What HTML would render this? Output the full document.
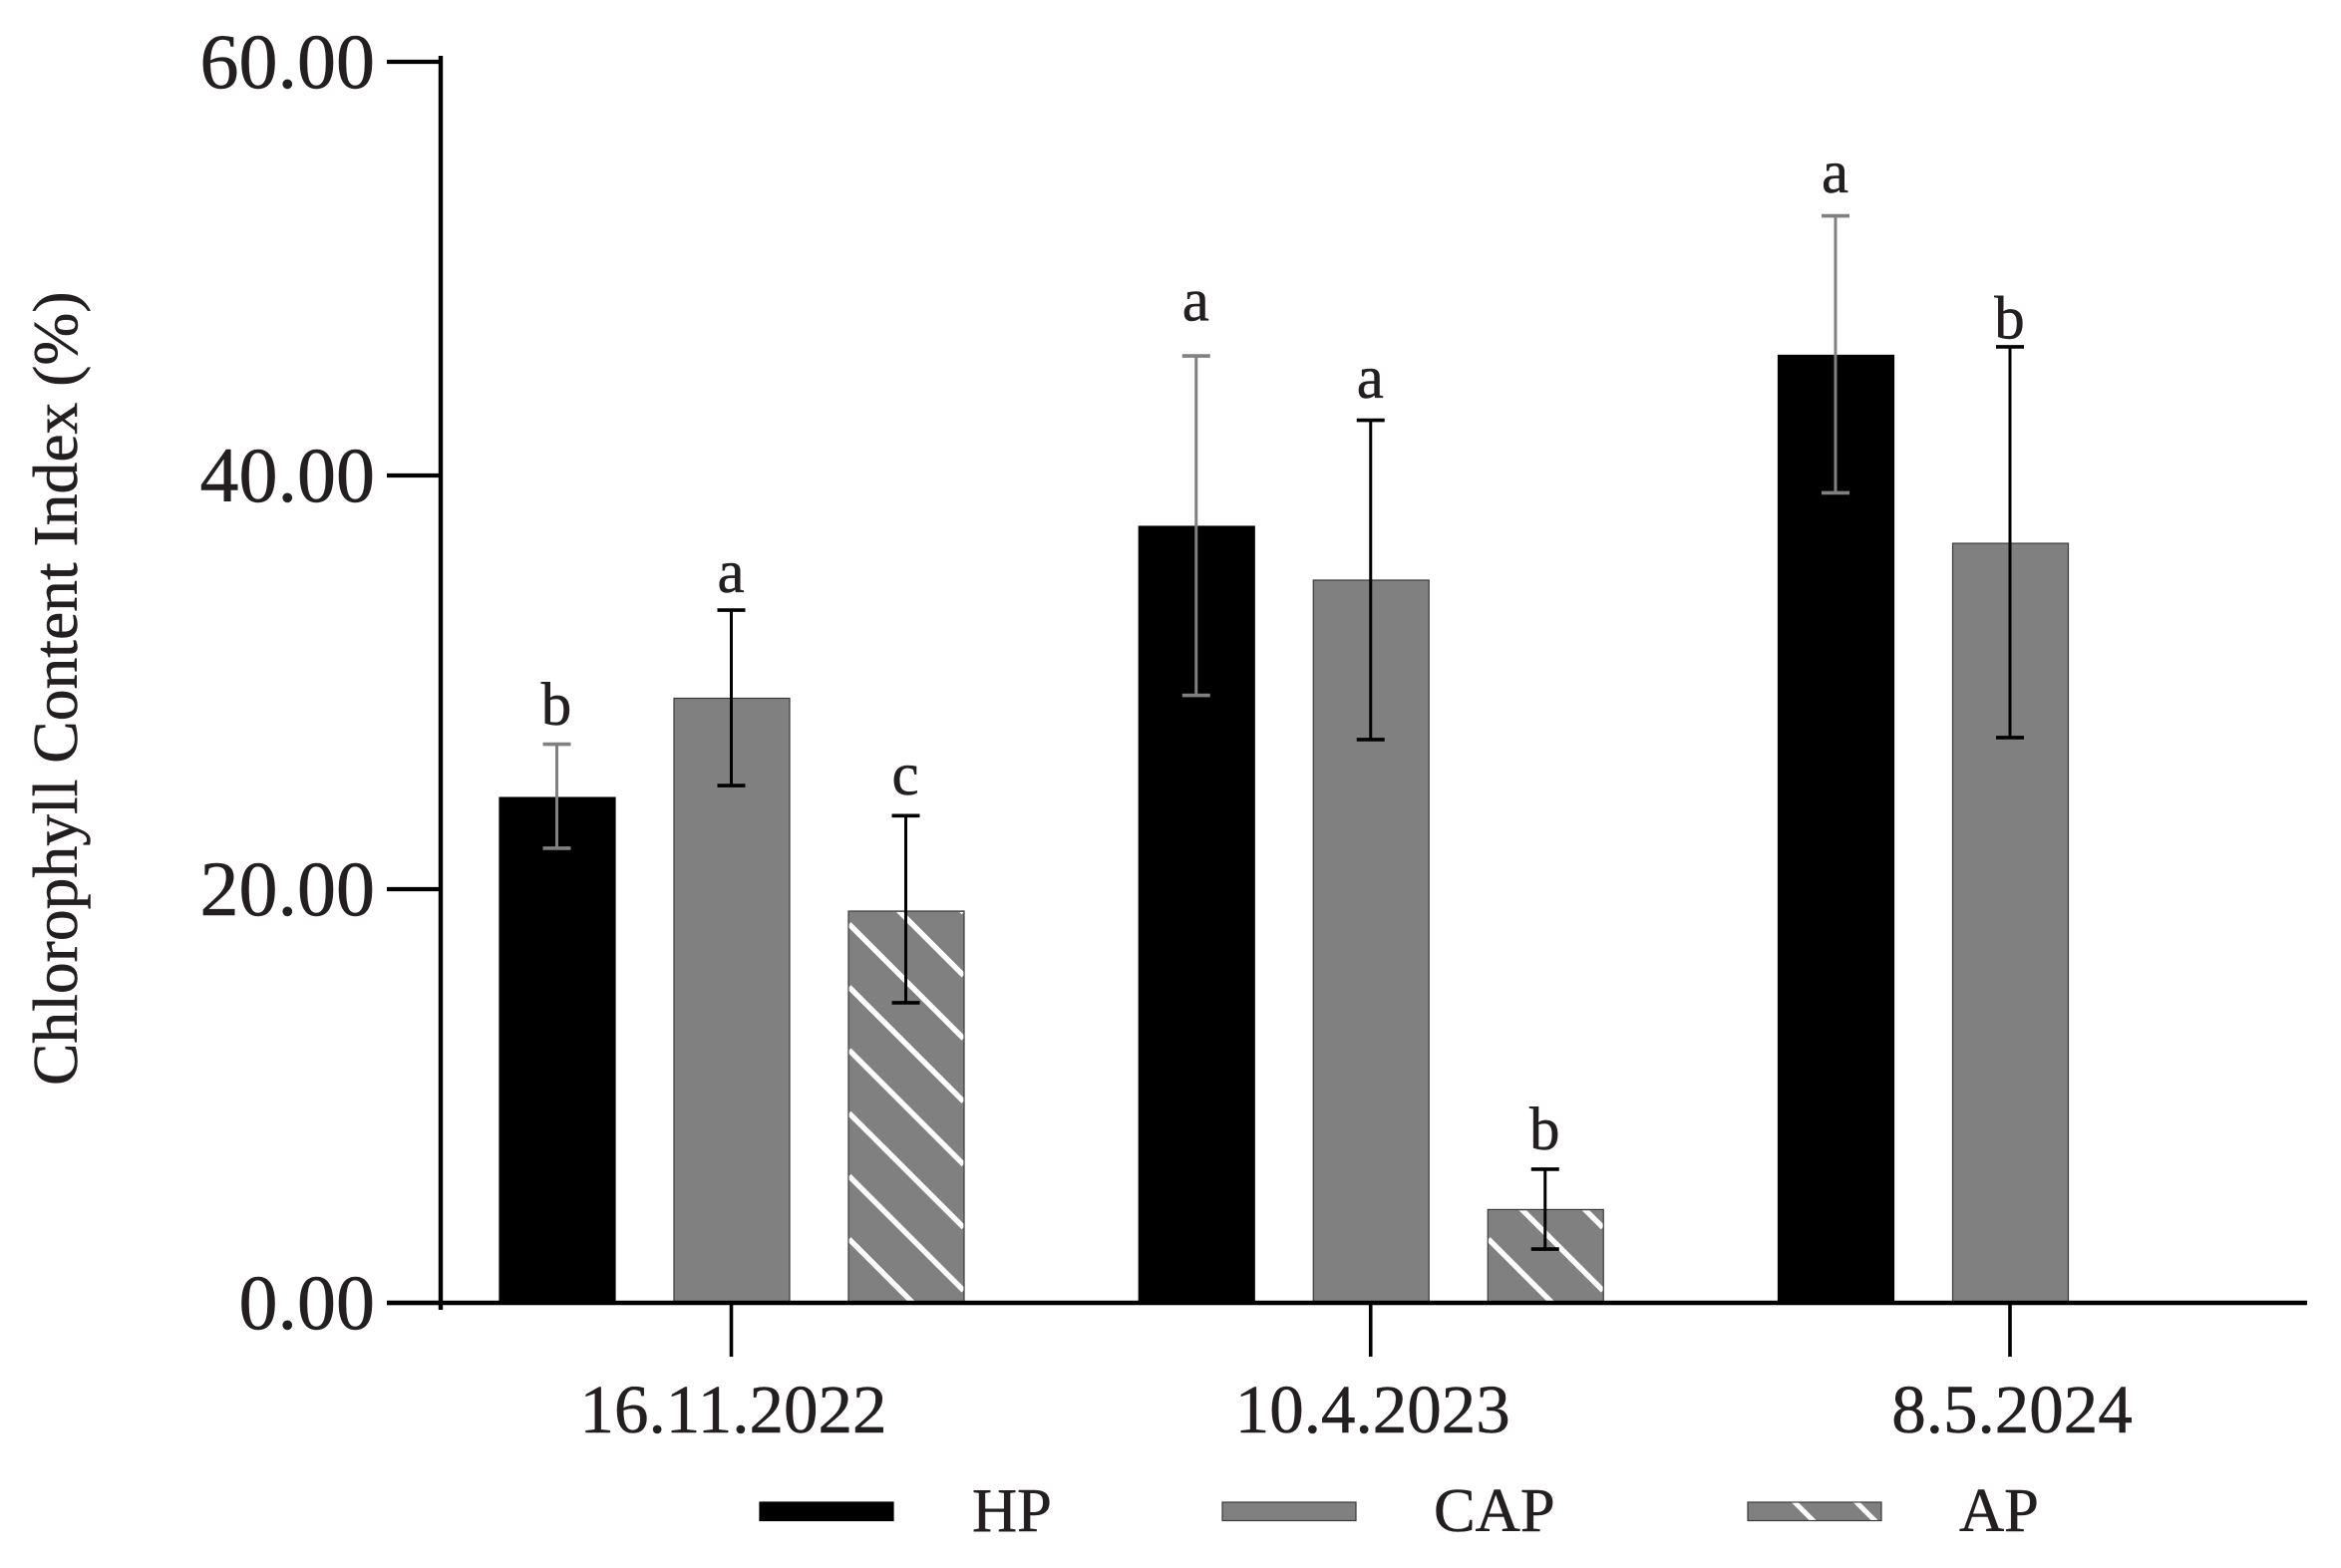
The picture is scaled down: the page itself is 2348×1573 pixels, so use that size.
<!DOCTYPE html>
<html lang="en">
<head>
<meta charset="utf-8">
<title>Chlorophyll Content Index</title>
<style>
html,body{margin:0;padding:0;background:#fff;}
svg{display:block;}
text{font-family:"Liberation Serif",serif;fill:#231f20;stroke:#231f20;stroke-width:0.5px;}
</style>
</head>
<body>
<svg id="chart" xmlns="http://www.w3.org/2000/svg" width="2348" height="1573" viewBox="0 0 2348 1573">
  <rect x="0" y="0" width="2348" height="1573" fill="#ffffff"/>
  <defs id="defs"></defs>
  <g id="bars"></g>
  <g id="errors"></g>
  <g id="letters"></g>
  <g id="axes"></g>
  <g id="legend"></g>
  <text transform="translate(77,1089) rotate(-90)" font-size="63.6">Chlorophyll Content Index (%)</text>
</svg>
<script>
const categories = ['16.11.2022', '10.4.2023', '8.5.2024'];
const seriesNames = ['HP', 'CAP', 'AP'];
const yTicks = [0, 20, 40, 60];
const yTickLabels = ['0.00', '20.00', '40.00', '60.00'];
const hpValues = [24.43, 37.54, 45.81];
const capValues = [29.23, 34.94, 36.72];
const apValues = [18.94, 4.51, null];
const hpUpper = [27.01, 45.78, 52.55];
const capUpper = [33.49, 42.67, 46.22];
const apUpper = [23.55, 6.46, null];
const hpLower = [21.98, 29.37, 39.16];
const capLower = [25.01, 27.23, 27.33];
const apLower = [14.51, 2.60, null];
const hpLetters = ['b', 'a', 'a'];
const capLetters = ['a', 'a', 'b'];
const apLetters = ['c', 'b', null];
const hpLetterLevel = [27.95, 47.49, 53.69];
const capLetterLevel = [34.36, 43.77, 46.63];
const apLetterLevel = [24.58, 7.42, null];

const NS = 'http://www.w3.org/2000/svg';
const Y0 = 1307, PX_PER_UNIT = 20.75;
const yScale = v => Y0 - v * PX_PER_UNIT;
const groupX = i => 734 + 641.25 * i;
const barX = (i, s) => groupX(i) + (s - 1) * 175;
const BAR_W = 116;
const HATCH_STEP = 63.2;

function mk(tag, attrs, parent, txt) {
  const el = document.createElementNS(NS, tag);
  for (const k in attrs) el.setAttribute(k, attrs[k]);
  if (txt !== undefined) el.textContent = txt;
  parent.appendChild(el);
  return el;
}

const barsG = document.getElementById('bars');
const errG = document.getElementById('errors');
const letG = document.getElementById('letters');
const axG = document.getElementById('axes');
const legG = document.getElementById('legend');
const defs = document.getElementById('defs');

const valuesBySeries = [hpValues, capValues, apValues];
const upperBySeries = [hpUpper, capUpper, apUpper];
const lowerBySeries = [hpLower, capLower, apLower];
const lettersBySeries = [hpLetters, capLetters, apLetters];
const levelBySeries = [hpLetterLevel, capLetterLevel, apLetterLevel];

function hatch(x, yTop, w, h, yLeftRef, parent, id) {
  const cp = mk('clipPath', {id: id}, defs);
  mk('rect', {x: x, y: yTop, width: w, height: h}, cp);
  const g = mk('g', {'clip-path': 'url(#' + id + ')'}, parent);
  
  
  for (let k = -2; k < 30; k++) {
    const yl = yLeftRef - k * HATCH_STEP;
    if (yl + w < yTop || yl > yTop + h) continue;
    const ln = mk('line', {x1: x, y1: yl, x2: x + w, y2: yl + w, stroke: '#ffffff', 'stroke-width': 5.4}, g);
    
    
  }
}

valuesBySeries.forEach((vals, s) => {
  vals.forEach((v, i) => {
    if (v === null) return;
    const cx = barX(i, s), x = cx - BAR_W / 2, top = yScale(v), h = Y0 - top;
    const rect = mk('rect', {
      x: x, y: top, width: BAR_W, height: h,
      fill: s === 0 ? '#000000' : '#808080',
      stroke: s === 0 ? '#000000' : '#3a3a3a',
      'stroke-width': 1.2
    }, barsG);
    
    
    if (s === 2) hatch(x + 0.6, top + 1, BAR_W - 1.2, h - 1, Y0 - 64, barsG, 'hatch-clip-' + i);

    const color = s === 0 ? '#808080' : '#000000';
    const ex = cx - 0.5;
    const yu = yScale(upperBySeries[s][i]), yl = yScale(lowerBySeries[s][i]);
    const eg = mk('g', {stroke: color, 'stroke-width': 3, fill: 'none'}, errG);
    
    
    mk('line', {x1: ex, y1: yu, x2: ex, y2: yl}, eg);
    mk('line', {x1: ex - 14, y1: yu, x2: ex + 14, y2: yu, 'stroke-width': 3.6}, eg);
    mk('line', {x1: ex - 14, y1: yl, x2: ex + 14, y2: yl, 'stroke-width': 3.6}, eg);

    const t = mk('text', {
      x: cx - 1, y: yScale(levelBySeries[s][i]),
      'text-anchor': 'middle', 'font-size': 61
    }, letG, lettersBySeries[s][i]);
    
    
  });
});

// Axes
const yAxis = mk('line', {x1: 442, y1: 56, x2: 442, y2: 1314, stroke: '#000', 'stroke-width': 4.4}, axG);


const xAxis = mk('line', {x1: 388, y1: Y0, x2: 2314, y2: Y0, stroke: '#000', 'stroke-width': 4.6}, axG);



yTicks.forEach((v, i) => {
  const y = yScale(v);
  const tick = mk('line', {x1: 388, y1: y, x2: 442, y2: y, stroke: '#000', 'stroke-width': 4.2}, axG);
  
  
  const lab = mk('text', {x: 376, y: y + 26, 'text-anchor': 'end', 'font-size': 78}, axG, yTickLabels[i]);
  
  
});

categories.forEach((c, i) => {
  const x = groupX(i) - 0.5;
  const tick = mk('line', {x1: x, y1: Y0, x2: x, y2: 1361, stroke: '#000', 'stroke-width': 3.6}, axG);
  
  
  const lab = mk('text', {x: x + 2, y: 1437, 'text-anchor': 'middle', 'font-size': 69}, axG, c);
  
  
});

// Legend
const legendSwatchX = [762, 1226, 1753];
const legendTextX = [975, 1438, 1965];
seriesNames.forEach((n, s) => {
  const w = s === 0 ? 134 : 134;
  const sw = mk('rect', {
    x: legendSwatchX[s], y: 1507, width: w, height: 18.5,
    fill: s === 0 ? '#000000' : '#808080',
    stroke: s === 0 ? '#000000' : '#3a3a3a', 'stroke-width': 1.2
  }, legG);
  
  
  if (s === 2) {
    const lx = legendSwatchX[s];
    const cp = mk('clipPath', {id: 'legend-clip'}, defs);
    mk('rect', {x: lx + 0.6, y: 1507.6, width: w - 1.2, height: 17.3}, cp);
    const g = mk('g', {'clip-path': 'url(#legend-clip)'}, legG);
    
    
    [45, 107].forEach(off => {
      mk('line', {x1: lx + off, y1: 1505, x2: lx + off + 22, y2: 1527, stroke: '#fff', 'stroke-width': 5}, g);
    });
  }
  const t = mk('text', {x: legendTextX[s], y: 1536, 'font-size': 62.5}, legG, n);
  
  
});
</script>
</body>
</html>
